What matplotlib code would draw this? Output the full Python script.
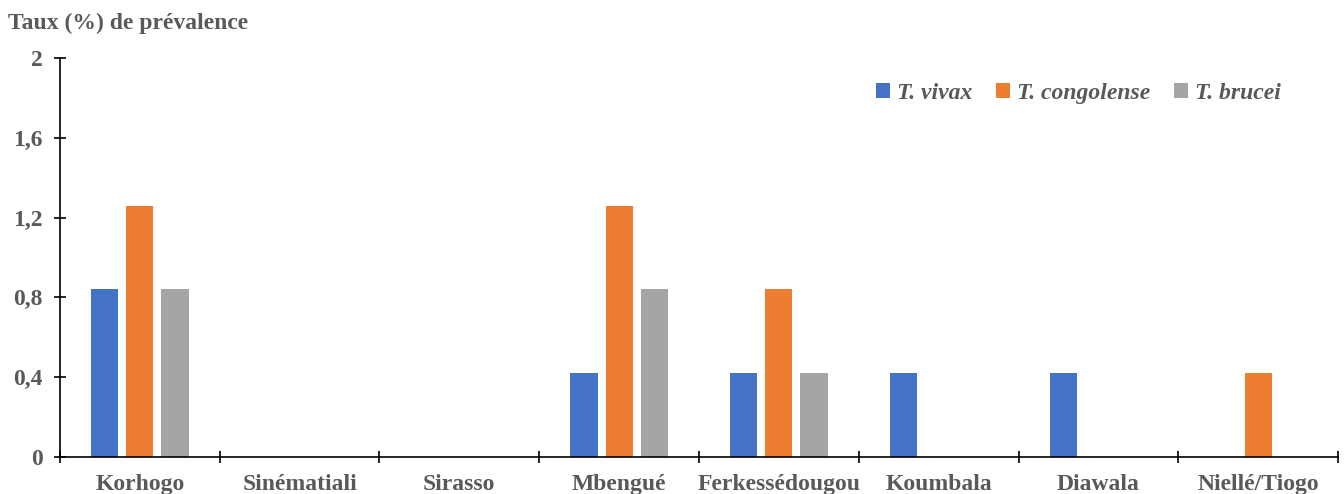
import matplotlib.pyplot as plt
import numpy as np

# Données de prévalence par localité
localites = ['Korhogo', 'Sinématiali', 'Sirasso', 'Mbengué', 'Ferkessédougou',
             'Koumbala', 'Diawala', 'Niellé/Tiogo']
vivax = [0.84, 0, 0, 0.42, 0.42, 0.42, 0.42, 0]
congolense = [1.26, 0, 0, 1.26, 0.84, 0, 0, 0.42]
brucei = [0.84, 0, 0, 0.84, 0.42, 0, 0, 0]
yticks = [0, 0.4, 0.8, 1.2, 1.6, 2]
ylabels = ['0', '0,4', '0,8', '1,2', '1,6', '2']

plt.rcParams['font.family'] = ['Liberation Serif', 'DejaVu Serif']
gris = '#595959'
taille = 17

fig = plt.figure(figsize=(13.44, 4.94), dpi=100)
ax = fig.add_axes([0.0446, 0.0749, 0.951, 0.8077])

x = np.arange(len(localites))
w = 0.17
ax.bar(x - 0.22, vivax, w, color='#4472C4', label='T. vivax')
ax.bar(x, congolense, w, color='#ED7D31', label='T. congolense')
ax.bar(x + 0.22, brucei, w, color='#A5A5A5', label='T. brucei')

ax.set_xlim(-0.5, len(localites) - 0.5)
ax.set_ylim(0, 2)
ax.set_yticks(yticks)
ax.set_yticklabels(ylabels, fontsize=taille, fontweight='bold', color=gris)

# Graduations entre les catégories, étiquettes au centre
ax.set_xticks(np.arange(len(localites) + 1) - 0.5)
ax.set_xticklabels([])
ax.set_xticks(x, minor=True)
ax.set_xticklabels(localites, minor=True, fontsize=taille, fontweight='bold', color=gris)
ax.tick_params(axis='x', which='major', direction='inout', length=9, width=1.2)
ax.tick_params(axis='x', which='minor', length=0, pad=12)
ax.tick_params(axis='y', direction='inout', length=9, width=1.2, pad=8)

for s in ['top', 'right']:
    ax.spines[s].set_visible(False)
ax.spines['left'].set_linewidth(1.2)
ax.spines['bottom'].set_linewidth(1.2)

fig.text(0.006, 0.953, 'Taux (%) de prévalence', fontsize=taille, fontweight='bold',
         color=gris, va='center')

leg = ax.legend(loc='upper right', bbox_to_anchor=(0.972, 0.99), ncol=3, frameon=False,
                handlelength=0.6, handleheight=0.6, handletextpad=0.3, columnspacing=1.0,
                prop={'size': taille, 'weight': 'bold', 'style': 'italic'})
for t in leg.get_texts():
    t.set_color(gris)

fig.savefig('out.png', dpi=100)
